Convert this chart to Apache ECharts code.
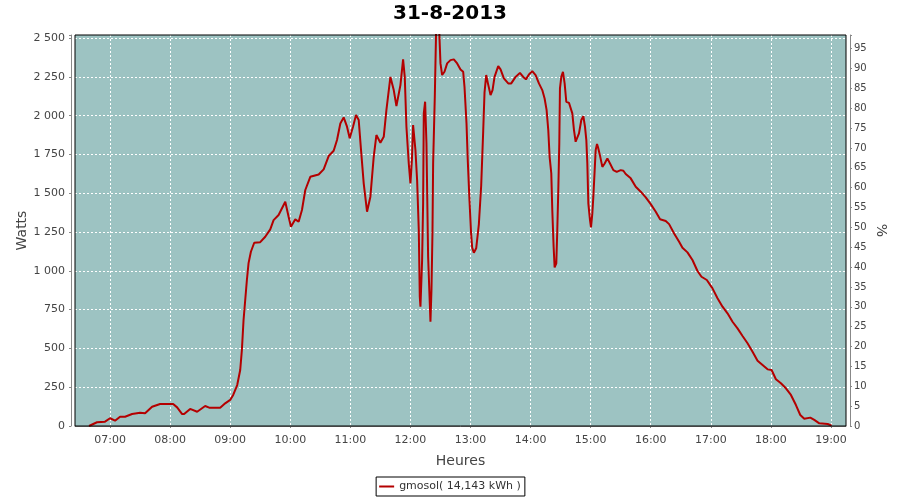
<!DOCTYPE html>
<html><head><meta charset="utf-8">
<script src="https://cdn.jsdelivr.net/npm/echarts@6/dist/echarts.min.js"></script>
<style>html,body{margin:0;padding:0;background:#fff}#c{width:900px;height:500px}</style>
</head><body><div id="c"></div><script>
const chartTitle = '31-8-2013';
const seriesName = 'gmosol( 14,143 kWh )';
const xAxisName = 'Heures';
const yAxisName = 'Watts';
const y2AxisName = '%';
const dayParts = [2013, 7, 31];
const xStart = '06:25';
const xEnd = '19:15';
const wattsMax = 2520;
const wattsStep = 250;
const percentMax = 98.44;
const percentStep = 5;

const times = [
 '06:39','06:47','06:55','07:00','07:05','07:10','07:15','07:22','07:30','07:35',
 '07:42','07:50','08:03','08:07','08:12','08:14','08:20','08:27','08:35','08:39',
 '08:50','08:55','09:00','09:03','09:07','09:10','09:11:40','09:13:20','09:15','09:16:40',
 '09:18:20','09:20:40','09:24','09:30','09:35','09:40','09:43:20','09:48:20','09:55','09:58:20',
 '10:00:40','10:05','10:08:20','10:11:40','10:15','10:20','10:28:20','10:33:20','10:38:20','10:43:20',
 '10:46:40','10:50','10:53:20','10:56:40','10:59:20','11:02:40','11:05:40','11:08:20','11:10:40','11:13:20',
 '11:16:40','11:20','11:23:20','11:26','11:30','11:33:20','11:36','11:40','11:43:20','11:46',
 '11:50','11:52:40','11:54:20','11:56','11:58:20','12:00','12:01:30','12:02:40','12:05','12:06:40',
 '12:08:20','12:09:20','12:10','12:11:40','12:12:40','12:13:20','12:14:40','12:16','12:17:40','12:19:20',
 '12:20','12:21','12:22','12:22:40','12:24:20','12:25:40','12:28:40','12:30','12:31:40','12:34',
 '12:36:40','12:40','12:43:20','12:46:40','12:50','12:52:40','12:54','12:56','12:57:20','12:59',
 '13:00:30','13:01:40','13:03:20','13:05:40','13:08:20','13:10:40','13:12:40','13:14','13:15:40','13:17:20',
 '13:20','13:22','13:24','13:27:40','13:30','13:33:20','13:37:40','13:40:40','13:45','13:49:20',
 '13:52:40','13:55:20','13:58:20','14:01:40','14:05','14:08:20','14:11:40','14:14','14:16','14:17:40',
 '14:19','14:20:40','14:21:40','14:23','14:24','14:25:40','14:26:40','14:27:40','14:28:40','14:29:20',
 '14:30:40','14:32:20','14:34','14:35:40','14:38:20','14:40','14:41:40','14:43:20','14:45','14:46:40',
 '14:48:20','14:50:40','14:52:40','14:54:20','14:55:40','14:56:40','14:57:40','14:59:20','15:00:20','15:01:40',
 '15:02:40','15:04','15:05','15:06:20','15:07:20','15:09','15:11:40','15:14','15:16:40','15:19:20',
 '15:22:40','15:26','15:30','15:32:40','15:35','15:40','15:45','15:50','15:55','16:00',
 '16:05','16:09:20','16:15','16:18:20','16:23:20','16:28:20','16:31:40','16:36:40','16:41:40','16:46:40',
 '16:50:40','16:56','17:01:40','17:06:40','17:11:40','17:16:40','17:21:40','17:26:40','17:31:40','17:36:40',
 '17:41:40','17:46:40','17:51:40','17:56:40','18:00:40','18:05','18:10','18:15','18:20','18:25',
 '18:29:20','18:33:20','18:39:20','18:43:20','18:48:20','18:56:40','19:00:40'
];
const watts = [
 0,24,28,50,34,60,60,77,86,82,
 124,142,142,120,77,77,110,92,129,118,
 118,146,168,200,264,361,490,683,812,941,
 1050,1123,1181,1185,1220,1267,1327,1360,1445,1349,
 1284,1332,1316,1392,1521,1606,1621,1654,1740,1774,
 1843,1950,1989,1929,1854,1929,2004,1972,1778,1564,
 1381,1478,1735,1875,1826,1864,2036,2250,2165,2062,
 2197,2363,2250,1929,1692,1564,1720,1940,1778,1585,
 1263,833,769,1070,1435,2015,2090,1822,1091,791,
 672,876,1242,1692,2122,2560,2560,2337,2262,2283,
 2337,2358,2363,2337,2298,2283,2186,1950,1700,1450,
 1250,1150,1117,1145,1300,1550,1900,2150,2262,2210,
 2133,2165,2250,2319,2298,2240,2208,2208,2250,2276,
 2250,2234,2266,2287,2262,2208,2165,2111,2036,1907,
 1735,1628,1392,1155,1022,1048,1263,1521,1822,2176,
 2250,2283,2208,2090,2083,2090,2015,1907,1832,1822,
 1886,1972,1997,1929,1843,1692,1435,1327,1280,1370,
 1478,1649,1778,1817,1796,1752,1670,1692,1725,1692,
 1649,1638,1649,1645,1624,1596,1542,1510,1473,1430,
 1381,1332,1321,1301,1241,1188,1149,1119,1070,999,
 962,941,887,823,769,726,672,629,580,533,
 479,421,393,365,361,301,275,243,200,135,
 71,47,54,39,17,13,2
];

const FONT = 'DejaVu Sans';
function ts(s) {
  const p = s.split(':').map(Number);
  return new Date(dayParts[0], dayParts[1], dayParts[2], p[0], p[1], p[2] || 0).getTime();
}
function pad(n) { return (n < 10 ? '0' : '') + n; }
function fmtWatts(v) {
  if (Math.abs(v % wattsStep) > 1e-6) return '';
  if (v >= 1000) return Math.floor(v / 1000) + ' ' + String(v % 1000).padStart(3, '0');
  return String(v);
}

const plotRect = {left: 75, right: 54, top: 35, bottom: 74};
const chart = echarts.init(document.getElementById('c'), null, {renderer: 'canvas'});
chart.setOption({
  animation: false,
  backgroundColor: '#ffffff',
  title: {
    text: chartTitle, left: 'center', top: 4, padding: 0,
    textStyle: {fontFamily: FONT, fontSize: 20, fontWeight: 'bold', color: '#000'}
  },
  legend: {
    left: 'center', top: 477,
    data: [{name: seriesName, icon: 'rect'}],
    itemWidth: 15, itemHeight: 2,
    borderColor: '#000', borderWidth: 1, borderRadius: 0,
    padding: [4, 4, 4, 3],
    textStyle: {fontFamily: FONT, fontSize: 11, color: '#333'}
  },
  grid: [
    Object.assign({show: true, backgroundColor: '#9dc3c2', borderColor: 'transparent', borderWidth: 0, containLabel: false}, plotRect),
    Object.assign({show: true, backgroundColor: 'transparent', borderColor: '#000', borderWidth: 1, z: 10, containLabel: false}, plotRect)
  ],
  xAxis: {
    type: 'time', gridIndex: 0,
    min: ts(xStart), max: ts(xEnd),
    minInterval: 3600000, maxInterval: 3600000,
    offset: 4,
    name: xAxisName, nameLocation: 'middle', nameGap: 24, nameMoveOverlap: false,
    nameTextStyle: {fontFamily: FONT, fontSize: 14, color: '#444'},
    axisLine: {show: true, lineStyle: {color: '#888', width: 1}},
    axisTick: {show: true, length: 2, lineStyle: {color: '#888'}},
    minorTick: {show: false},
    axisLabel: {
      fontFamily: FONT, fontSize: 11, color: '#444', margin: 5, hideOverlap: false,
      formatter: function (v) {
        const d = new Date(v);
        if (d.getMinutes() !== 0 || d.getSeconds() !== 0) return '';
        return pad(d.getHours()) + ':' + pad(d.getMinutes());
      }
    },
    splitLine: {show: true, showMinLine: false, showMaxLine: false,
      lineStyle: {color: '#ffffff', type: [2, 2], width: 1}}
  },
  yAxis: [{
    type: 'value', gridIndex: 0, min: 0, max: wattsMax, interval: wattsStep,
    position: 'left', offset: 4,
    name: yAxisName, nameLocation: 'middle', nameRotate: 90, nameGap: 42, nameMoveOverlap: false,
    nameTextStyle: {fontFamily: FONT, fontSize: 14, color: '#444'},
    axisLine: {show: true, lineStyle: {color: '#888', width: 1}},
    axisTick: {show: true, length: 2, lineStyle: {color: '#888'}},
    axisLabel: {fontFamily: FONT, fontSize: 11, color: '#444', margin: 6, formatter: fmtWatts},
    splitLine: {show: true, showMinLine: false, showMaxLine: false,
      lineStyle: {color: '#ffffff', type: [2, 2], width: 1}}
  }, {
    type: 'value', gridIndex: 0, min: 0, max: percentMax, interval: percentStep,
    position: 'right', offset: 4,
    name: y2AxisName, nameLocation: 'middle', nameRotate: -90, nameGap: 24, nameMoveOverlap: false,
    nameTextStyle: {fontFamily: FONT, fontSize: 14, color: '#444'},
    axisLine: {show: true, lineStyle: {color: '#888', width: 1}},
    axisTick: {show: true, length: 2, lineStyle: {color: '#888'}},
    axisLabel: {
      fontFamily: FONT, fontSize: 10, color: '#444', margin: 4,
      formatter: function (v) { return Math.abs(v % percentStep) > 1e-6 ? '' : String(v); }
    },
    splitLine: {show: false}
  }],
  series: [{
    name: seriesName, type: 'line', xAxisIndex: 0, yAxisIndex: 0,
    showSymbol: false, smooth: false, clip: true,
    color: '#b40000',
    lineStyle: {color: '#b40000', width: 2},
    data: times.map(function (t, i) { return [ts(t), watts[i]]; })
  }]
});
</script></body></html>
